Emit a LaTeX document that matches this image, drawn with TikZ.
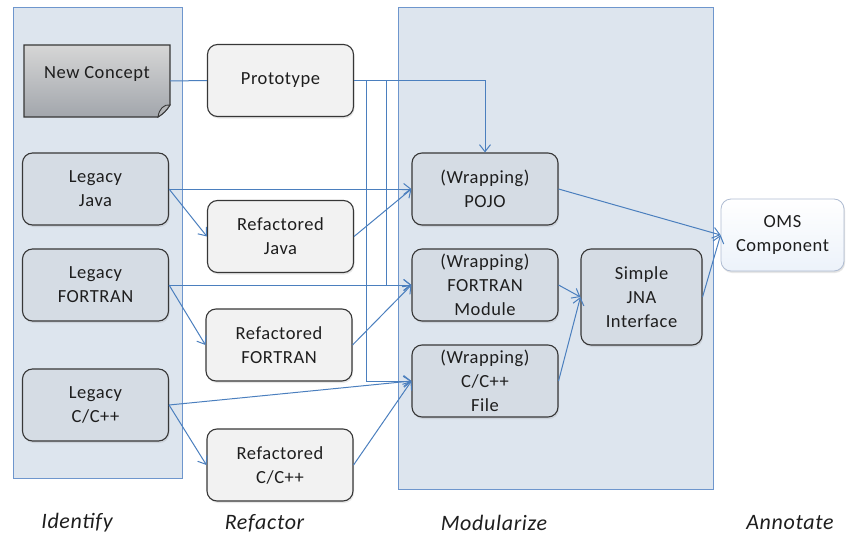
\documentclass[tikz,border=0pt]{standalone}
\usepackage{fontspec}
\setmainfont{Carlito}[LetterSpace=3]
\usetikzlibrary{arrows.meta,shadows}

\definecolor{panelfill}{RGB}{221,229,238}
\definecolor{panelline}{RGB}{110,150,205}
\definecolor{flow}{RGB}{75,127,190}
\definecolor{darkbox}{RGB}{213,220,228}
\definecolor{lightbox}{RGB}{242,242,242}
\definecolor{boxline}{RGB}{55,55,55}
\definecolor{txt}{RGB}{30,30,30}
\definecolor{conceptTop}{RGB}{214,214,214}
\definecolor{conceptBottom}{RGB}{162,166,172}
\definecolor{omsline}{RGB}{175,188,210}
\definecolor{omsbottom}{RGB}{236,242,250}

\tikzset{
  stage/.style={draw=panelline, fill=panelfill, line width=1pt, inner sep=0pt},
  card/.style={draw=boxline, line width=1.1pt, rounded corners=10pt,
    minimum width=146pt, minimum height=72pt, align=center, text=txt,
    font=\fontsize{18.5}{24}\selectfont, inner sep=0pt,
    drop shadow={opacity=0.18, shadow xshift=1pt, shadow yshift=-2pt}},
  legacy/.style={card, fill=darkbox},
  refac/.style={card, fill=lightbox},
  boxtext/.style={text=txt, font=\fontsize{18.5}{24}\selectfont, inner sep=0pt},
  flowline/.style={draw=flow, line width=1pt},
  flowarrow/.style={flowline, -{Straight Barb[length=7pt,width=11pt]}},
  phase/.style={font=\itshape\fontsize{22}{26}\selectfont, text=txt},
}

\begin{document}
\begin{tikzpicture}[x=1pt,y=-1pt]
\useasboundingbox (0,0) rectangle (846,535);

% stage panels
\node[stage, minimum width=169pt, minimum height=470pt] (identify) at (97.5,243) {};
\node[stage, minimum width=315pt, minimum height=481pt] (modularize) at (555.5,248.5) {};

% new concept document shape
\node[minimum width=146pt, minimum height=72pt, inner sep=0pt] (concept) at (97,81) {};
\path[draw=boxline, line width=1.1pt, top color=conceptTop, bottom color=conceptBottom]
  (24,45) -- (170,45) -- (170,105) .. controls (167,110) and (163,114) .. (158,117)
  -- (24,117) -- cycle;
\path[draw=boxline, line width=0.9pt, fill=conceptBottom!80!black!60]
  (170,105) .. controls (164,104) and (159,109) .. (158,117)
  .. controls (163,114) and (167,110) .. (170,105) -- cycle;
\node[boxtext] (conceptlabel) at ([yshift=7pt]concept.center) {New Concept};

% identify / refactor boxes
\node[refac] (proto) at (280.5,80.5) {Prototype};
\node[legacy] (ljava) at (95.5,189) {Legacy\\Java};
\node[refac] (rjava) at (280.5,236.5) {Refactored\\Java};
\node[legacy] (lfort) at (95.5,285) {Legacy\\FORTRAN};
\node[refac] (rfort) at (279,345) {Refactored\\FORTRAN};
\node[legacy] (lcpp) at (95.5,405) {Legacy\\C/C++};
\node[refac] (rcpp) at (280,465) {Refactored\\C/C++};

% modularize boxes
\node[legacy] (pojo) at (485,189) {(Wrapping)\\POJO};
\node[legacy] (fmod) at (485,285) {(Wrapping)\\FORTRAN\\Module};
\node[legacy] (cfile) at (485,381) {(Wrapping)\\C/C++\\File};
\node[legacy, minimum width=121pt, minimum height=96pt] (jna) at (641.5,297) {Simple\\JNA\\Interface};

% annotate box
\node[card, draw=omsline, line width=0.8pt, top color=white, bottom color=omsbottom,
  minimum width=123pt, drop shadow={opacity=0.08, shadow xshift=1pt, shadow yshift=-1pt}]
  (oms) at (782.5,235) {OMS\\Component};

% connectors
\coordinate (tapA) at (386,80.5);
\coordinate (tapB) at (366,80.5);
\draw[flowline] (concept.east) -- (proto.west);
\draw[flowarrow] (proto.east) -| (pojo.north);
\draw[flowarrow] (tapA) |- (fmod.west);
\draw[flowarrow] (tapB) |- (cfile.west);

\draw[flowarrow] (ljava.east) -- (pojo.west);
\draw[flowarrow] (ljava.east) -- (rjava.west);
\draw[flowarrow] (rjava.east) -- (pojo.west);

\draw[flowarrow] (lfort.east) -- (fmod.west);
\draw[flowarrow] (lfort.east) -- (rfort.west);
\draw[flowarrow] (rfort.east) -- (fmod.west);

\draw[flowarrow] (lcpp.east) -- (cfile.west);
\draw[flowarrow] (lcpp.east) -- (rcpp.west);
\draw[flowarrow] (rcpp.east) -- (cfile.west);

\draw[flowarrow] (pojo.east) -- (oms.west);
\draw[flowarrow] (fmod.east) -- (jna.west);
\draw[flowarrow] (cfile.east) -- (jna.west);
\draw[flowarrow] (jna.east) -- (oms.west);

% phase captions
\node[phase] (capidentify) at (77,523) {Identify};
\node[phase] (caprefactor) at (264.5,523) {Refactor};
\node[phase] (capmodularize) at (494,523) {Modularize};
\node[phase] (capannotate) at (790,523) {Annotate};
\end{tikzpicture}
\end{document}
